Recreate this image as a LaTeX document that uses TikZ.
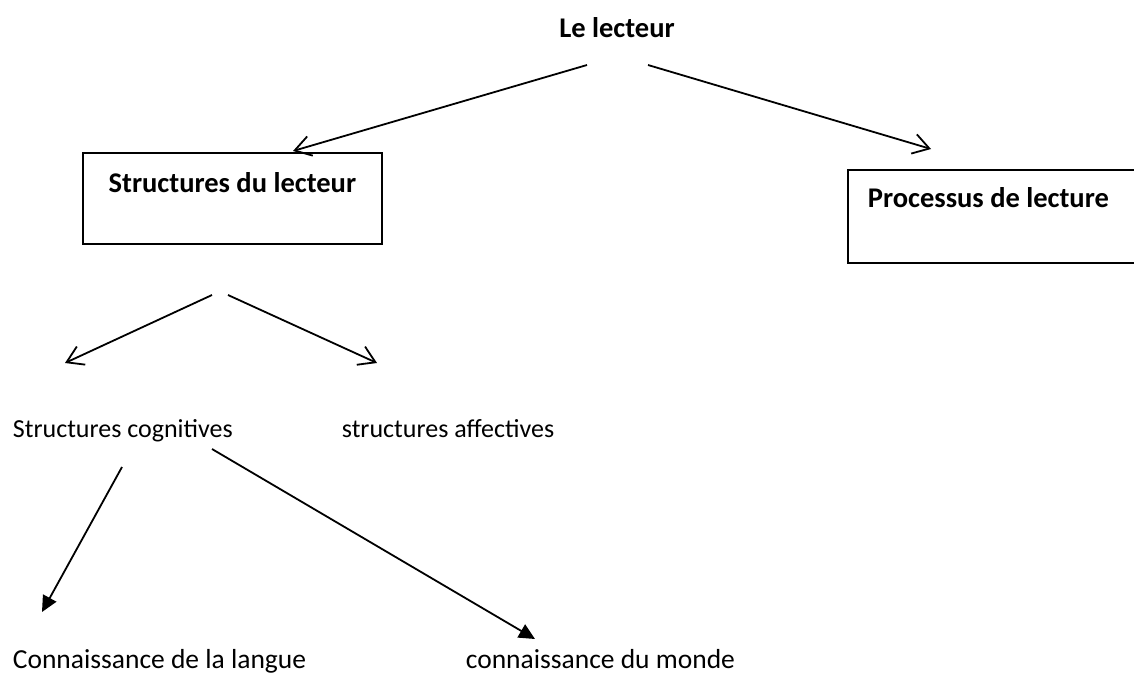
\documentclass[tikz,border=0pt]{standalone}
\usepackage{fontspec}
\setmainfont{Carlito}
\usetikzlibrary{arrows.meta}
\begin{document}
\begin{tikzpicture}[x=1pt,y=-1pt,
  line width=1.8pt,
  bigbold/.style={font=\fontsize{28.5}{34}\selectfont\bfseries},
  midtxt/.style={font=\fontsize{26}{31}\selectfont, anchor=base west, inner sep=0pt},
  lowtxt/.style={font=\fontsize{27.5}{33}\selectfont, anchor=base west, inner sep=0pt},
  boxnode/.style={draw, line width=1.8pt, bigbold, inner ysep=0pt},
  openarrow/.style={-{Straight Barb[length=16pt,width=20pt,line width=1.8pt]}},
  fillarrow/.style={-{Triangle[length=16pt,width=15pt]}}
]
\useasboundingbox (0,0) rectangle (1134,673);
\clip (0,0) rectangle (1134,673);

% texts
\node[bigbold, anchor=base, inner sep=0pt] (root) at (617,37) {Le lecteur};
\node[boxnode, anchor=north west, minimum width=299pt, text height=40pt, text depth=51pt] (struct) at (82,152) {Structures du lecteur};
\node[boxnode, anchor=north west, inner xsep=20pt, text height=38pt, text depth=55pt] (proc) at (847,169) {\makebox[270pt][l]{Processus de lecture}};
\node[midtxt] (cog) at (12,437) {Structures cognitives};
\node[midtxt] (aff) at (341,437) {structures affectives};
\node[lowtxt] (langue) at (12,668) {Connaissance de la langue};
\node[lowtxt] (monde) at (465,668) {connaissance du monde};

% arrow ends
\coordinate (r1s) at (587,65);  \coordinate (r1e) at (293,151);
\coordinate (r2s) at (648,65);  \coordinate (r2e) at (931,149);
\coordinate (s1s) at (212,295); \coordinate (s1e) at (65,363);
\coordinate (s2s) at (228,295); \coordinate (s2e) at (377,363);
\coordinate (c1s) at (122,467); \coordinate (c1e) at (42,612);
\coordinate (c2s) at (212,449); \coordinate (c2e) at (535,639);

\draw[openarrow] (r1s) -- (r1e);
\draw[openarrow] (r2s) -- (r2e);
\draw[openarrow] (s1s) -- (s1e);
\draw[openarrow] (s2s) -- (s2e);
\draw[fillarrow] (c1s) -- (c1e);
\draw[fillarrow] (c2s) -- (c2e);
\end{tikzpicture}
\end{document}
